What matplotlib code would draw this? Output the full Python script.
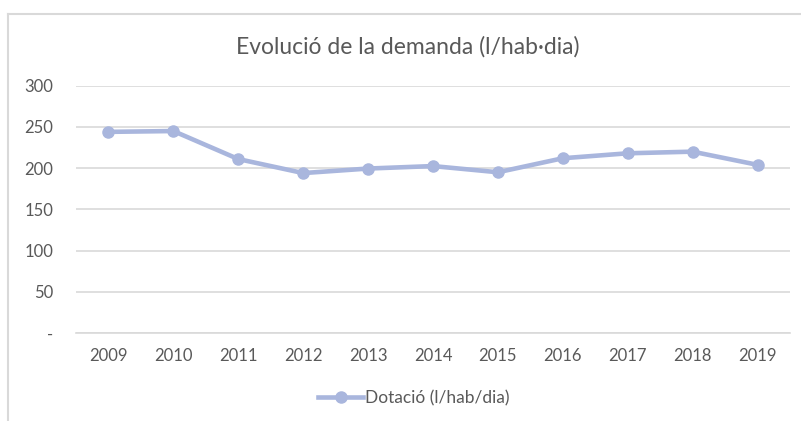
import matplotlib
matplotlib.use("Agg")
import matplotlib.pyplot as plt
from matplotlib.lines import Line2D

years = ["2009", "2010", "2011", "2012", "2013", "2014", "2015", "2016", "2017", "2018", "2019"]
dotacio = [244, 245, 211, 194, 199.5, 202.5, 195, 212, 218, 220, 204]
yticks = [0, 50, 100, 150, 200, 250, 300]
ytick_labels = ["-", "50", "100", "150", "200", "250", "300"]

W, H = 801, 421
fig = plt.figure(figsize=(W / 100, H / 100), dpi=100)
plt.rcParams['font.family'] = ['Lato', 'DejaVu Sans']

# chart-area border (top and left visible)
fig.add_artist(Line2D([7.5 / W, 1.0], [1 - 13.5 / H, 1 - 13.5 / H], color="#d9d9d9", lw=1.5))
fig.add_artist(Line2D([7.5 / W, 7.5 / W], [0.0, 1 - 13.5 / H], color="#d9d9d9", lw=1.5))

left, right, top, bottom = 76, 790, 85.7, 333
ax = fig.add_axes([left / W, 1 - bottom / H, (right - left) / W, (bottom - top) / H])

color = "#a9b6dd"
x = list(range(len(years)))
ax.plot(x, dotacio, color=color, lw=3.3, marker="o", markersize=8,
        solid_capstyle="round", solid_joinstyle="round", zorder=3,
        label="Dotació (l/hab/dia)")

ax.set_xlim(-0.5, len(years) - 0.5)
ax.set_ylim(0, 300)
ax.set_yticks(yticks)
ax.set_yticklabels(ytick_labels)
ax.set_xticks(x)
ax.set_xticklabels(years)
ax.grid(axis="y", color="#d9d9d9", lw=1.2)
ax.set_axisbelow(True)
for s in ax.spines.values():
    s.set_visible(False)
ax.spines["bottom"].set_visible(True)
ax.spines["bottom"].set_color("#d9d9d9")
ax.spines["bottom"].set_linewidth(1.2)
ax.tick_params(axis="both", length=0, colors="#595959", labelsize=12)
ax.tick_params(axis="y", pad=16.5)
ax.tick_params(axis="x", pad=11)

fig.text(408 / W, 1 - 47 / H, "Evolució de la demanda (l/hab·dia)", ha="center", va="center",
         fontsize=16.5, color="#595959")

leg = fig.legend(handles=[Line2D([0], [0], color=color, lw=3.3, marker="o", markersize=8)],
                 labels=["Dotació (l/hab/dia)"], loc="center", bbox_to_anchor=(414 / W, 1 - 398 / H),
                 frameon=False, fontsize=12.5, handlelength=2.6, handletextpad=0.1, labelcolor="#595959")

fig.savefig("out.png", dpi=100, facecolor="white")
